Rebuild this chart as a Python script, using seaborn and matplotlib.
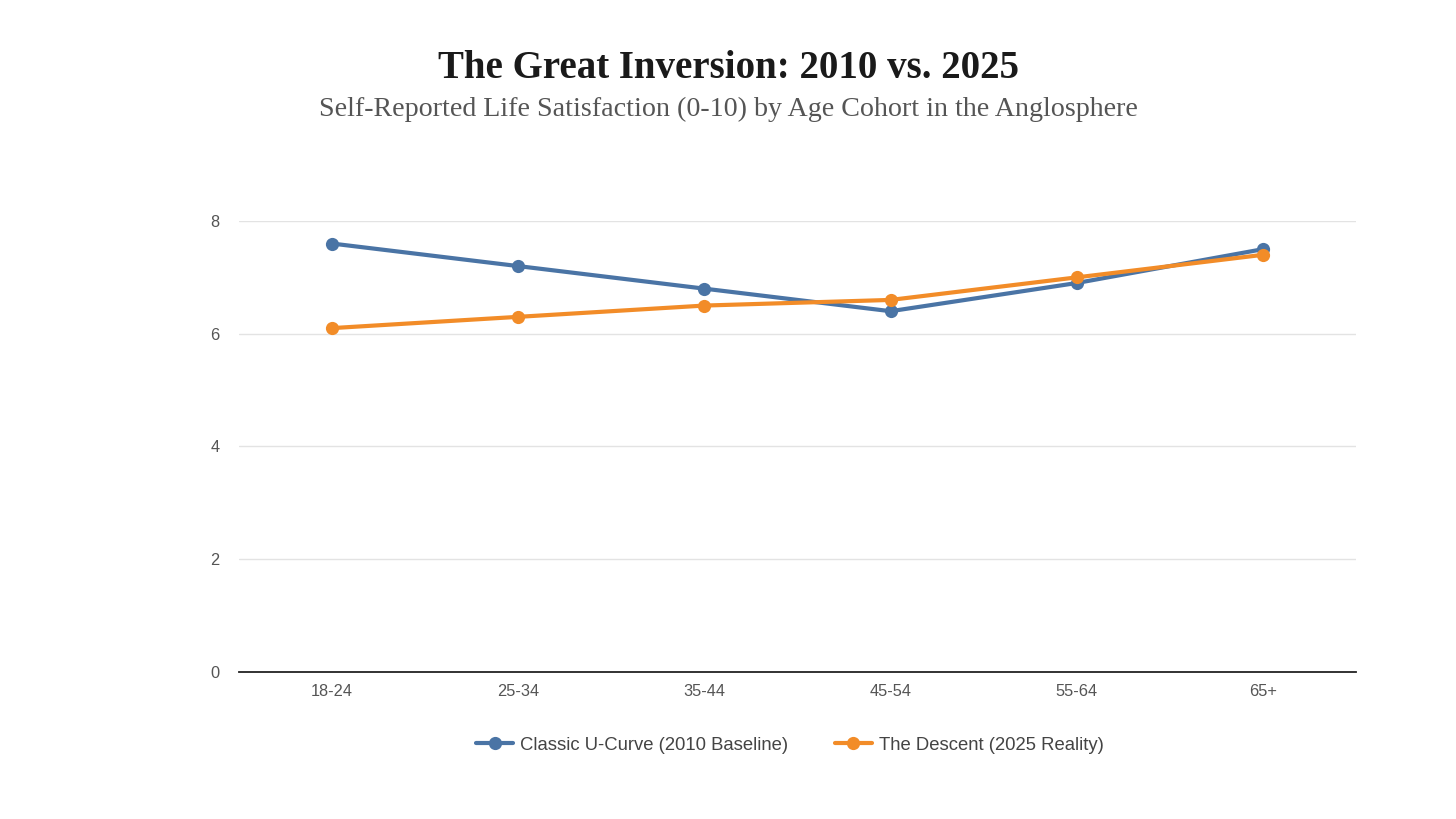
import matplotlib
matplotlib.use("Agg")
import matplotlib.pyplot as plt
import seaborn as sns
import pandas as pd
from matplotlib.lines import Line2D

categories = ["18-24", "25-34", "35-44", "45-54", "55-64", "65+"]
classic_2010 = [7.6, 7.2, 6.8, 6.4, 6.9, 7.5]
descent_2025 = [6.1, 6.3, 6.5, 6.6, 7.0, 7.4]
series_names = ["Classic U-Curve (2010 Baseline)", "The Descent (2025 Reality)"]
y_ticks = [0, 2, 4, 6, 8]

sns.set_theme(style="white")
plt.rcParams['font.family'] = ['Liberation Sans', 'DejaVu Sans']

df = pd.DataFrame({
    "Age": categories * 2,
    "Score": classic_2010 + descent_2025,
    "Series": [series_names[0]] * len(categories) + [series_names[1]] * len(categories),
})
df["x"] = list(range(len(categories))) * 2

palette = {series_names[0]: "#4a74a5", series_names[1]: "#f28c28"}

fig = plt.figure(figsize=(14.56, 8.19), dpi=100)
ax = fig.add_axes([239/1456, 1 - 672/819, (1356-239)/1456, (672-221)/819])

sns.lineplot(data=df, x="x", y="Score", hue="Series", palette=palette, ax=ax,
             marker="o", markersize=9.5, linewidth=3, markeredgewidth=0,
             legend=False, clip_on=False, zorder=3)

ax.set_xlim(-0.5, len(categories) - 0.5)
ax.set_ylim(0, 8)
ax.set_xticks(range(len(categories)))
ax.set_xticklabels(categories)
ax.set_yticks(y_ticks)
ax.set_yticklabels([str(t) for t in y_ticks])
ax.set_xlabel("")
ax.set_ylabel("")
ax.tick_params(axis="both", length=0, labelsize=11.8, labelcolor="#555555")
ax.tick_params(axis="y", pad=14)
ax.tick_params(axis="x", pad=9)
for v in y_ticks[1:]:
    ax.axhline(v, color="#e3e3e3", linewidth=1, zorder=1)
for s in ["top", "right", "left"]:
    ax.spines[s].set_visible(False)
ax.spines["bottom"].set_color("#222222")
ax.spines["bottom"].set_linewidth(1.3)

handles = [Line2D([0], [0], color=palette[n], lw=3, marker="o", markersize=9.5, markeredgewidth=0)
           for n in series_names]
fig.legend(handles, series_names, loc="center", bbox_to_anchor=(790/1456, 1 - 745/819),
           ncol=2, frameon=False, fontsize=13.3, labelcolor="#444444",
           handlelength=2.0, columnspacing=2.5, handletextpad=0.4)

fig.text(728/1456, 1 - 68/819, "The Great Inversion: 2010 vs. 2025", ha="center", va="center",
         fontsize=28, fontweight="bold", family=["Liberation Serif", "DejaVu Serif"], color="#1a1a1a")
fig.text(728/1456, 1 - 109/819, "Self-Reported Life Satisfaction (0-10) by Age Cohort in the Anglosphere",
         ha="center", va="center", fontsize=20.2, family=["Liberation Serif", "DejaVu Serif"], color="#555555")

fig.savefig("out.png", dpi=100)
